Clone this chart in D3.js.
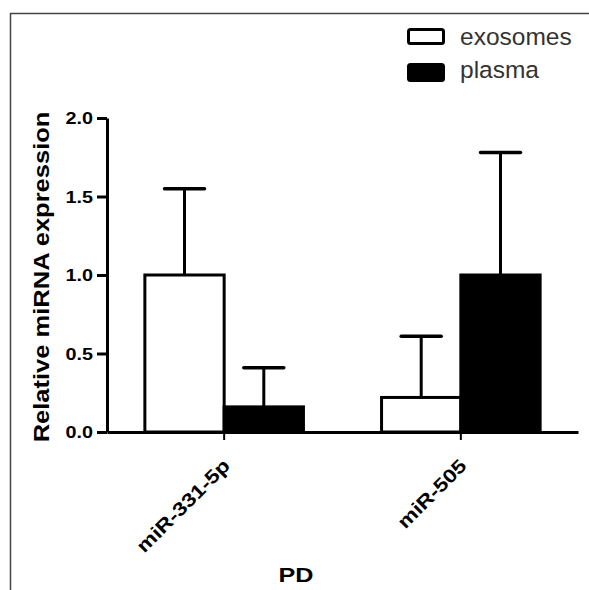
<!DOCTYPE html>
<html>
<head>
<meta charset="utf-8">
<script src="https://cdn.jsdelivr.net/npm/d3@7"></script>
<style>
  body { margin: 0; background: #fff; }
  svg text { font-family: Arial, "Liberation Sans", sans-serif; }
</style>
</head>
<body>
<div id="chart"></div>
<script>
// data
var categories = ["miR-331-5p", "miR-505"];
var seriesNames = ["exosomes", "plasma"];
var exosomesMean = [1.0, 0.22];
var exosomesErr = [0.55, 0.39];
var plasmaMean = [0.16, 1.0];
var plasmaErr = [0.25, 0.78];
var yTicks = [0.0, 0.5, 1.0, 1.5, 2.0];

var svgWidth = 589, svgHeight = 590;
var margin = {top: 118, right: 11, bottom: 158, left: 107};
var width = svgWidth - margin.left - margin.right;
var height = svgHeight - margin.top - margin.bottom;

// the bold text in the picture is wider than Arial
var stretch = 1.2;

var svg = d3.select("#chart").append("svg")
  .attr("width", svgWidth)
  .attr("height", svgHeight);

// outer frame (top + left)
svg.append("path")
  .attr("d", "M10.5,590 L10.5,13.5 L589,13.5")
  .attr("fill", "none")
  .attr("stroke", "#444")
  .attr("stroke-width", 1.5);

var chartGroup = svg.append("g")
  .attr("transform", `translate(${margin.left}, ${margin.top})`);

// scales
var x0 = d3.scaleBand()
  .domain(categories)
  .range([0, width])
  .paddingInner(0.33)
  .paddingOuter(0.16);

var x1 = d3.scaleBand()
  .domain(seriesNames)
  .range([0, x0.bandwidth()]);

var y = d3.scaleLinear()
  .domain([0, 2])
  .range([height, 0]);

var rows = [];
categories.forEach(function(c, i) {
  rows.push({cat: c, s: "exosomes", v: exosomesMean[i], e: exosomesErr[i]});
  rows.push({cat: c, s: "plasma", v: plasmaMean[i], e: plasmaErr[i]});
});

// error bars (upper only)
var errG = chartGroup.selectAll(".err")
  .data(rows)
  .enter()
  .append("g")
  .attr("transform", d => `translate(${x0(d.cat) + x1(d.s) + x1.bandwidth() / 2}, 0)`);

errG.append("line")
  .attr("x1", 0).attr("x2", 0)
  .attr("y1", d => y(d.v))
  .attr("y2", d => y(d.v + d.e))
  .attr("stroke", "#000")
  .attr("stroke-width", 3);

errG.append("line")
  .attr("x1", -20).attr("x2", 20)
  .attr("y1", d => y(d.v + d.e))
  .attr("y2", d => y(d.v + d.e))
  .attr("stroke", "#000")
  .attr("stroke-width", 3.5)
  .attr("stroke-linecap", "round");

// bars
chartGroup.selectAll(".bar")
  .data(rows)
  .enter()
  .append("rect")
  .attr("x", d => x0(d.cat) + x1(d.s))
  .attr("y", d => y(d.v))
  .attr("width", x1.bandwidth())
  .attr("height", d => height - y(d.v))
  .attr("fill", d => d.s === "plasma" ? "#000" : "#fff")
  .attr("stroke", "#000")
  .attr("stroke-width", 3);

// y axis
var leftAxis = d3.axisLeft(y)
  .tickValues(yTicks)
  .tickFormat(d3.format(".1f"))
  .tickSize(10)
  .tickSizeOuter(0);

var yAxisG = chartGroup.append("g").call(leftAxis);
yAxisG.select(".domain").attr("stroke-width", 3);
yAxisG.selectAll(".tick line").attr("stroke-width", 3);
yAxisG.selectAll(".tick text")
  .attr("font-size", 16.5)
  .attr("font-weight", "bold")
  .attr("font-family", "Arial, 'Liberation Sans', sans-serif")
  .attr("text-anchor", "end")
  .attr("x", 0)
  .attr("dy", "0.36em")
  .attr("transform", `translate(-14, 0) scale(${stretch}, 1)`);

// x axis
var bottomAxis = d3.axisBottom(x0)
  .tickSize(8)
  .tickSizeOuter(0);

var xAxisG = chartGroup.append("g")
  .attr("transform", `translate(0, ${height})`)
  .call(bottomAxis);
xAxisG.select(".domain").attr("stroke-width", 3);
xAxisG.selectAll(".tick line").attr("stroke-width", 2);
xAxisG.selectAll(".tick text")
  .attr("font-size", 19)
  .attr("font-weight", "bold")
  .attr("font-family", "Arial, 'Liberation Sans', sans-serif")
  .attr("text-anchor", "end")
  .attr("x", 0)
  .attr("y", 0)
  .attr("dy", 0)
  .attr("transform", `translate(7, 35) rotate(-45) scale(${stretch}, 1)`);

// axis labels
chartGroup.append("text")
  .attr("transform", `translate(-58, ${height / 2 + 2}) rotate(-90) scale(1.16, 1)`)
  .attr("text-anchor", "middle")
  .attr("font-size", 22)
  .attr("font-weight", "bold")
  .text("Relative miRNA expression");

svg.append("text")
  .attr("transform", `translate(296, 582) scale(${stretch}, 1)`)
  .attr("text-anchor", "middle")
  .attr("font-size", 21)
  .attr("font-weight", "bold")
  .text("PD");

// legend
var legend = svg.selectAll(".legend")
  .data(seriesNames)
  .enter()
  .append("g")
  .attr("transform", (d, i) => `translate(408.5, ${29.5 + i * 35})`);

legend.append("rect")
  .attr("width", 35)
  .attr("height", d => d === "plasma" ? 16 : 14)
  .attr("rx", 2)
  .attr("fill", d => d === "plasma" ? "#000" : "#fff")
  .attr("stroke", "#000")
  .attr("stroke-width", 3);

legend.append("text")
  .attr("x", 51.5)
  .attr("y", (d, i) => i === 0 ? 15.5 : 13)
  .attr("font-size", 24.5)
  .attr("fill", "#333")
  .text(d => d);
</script>
</body>
</html>
